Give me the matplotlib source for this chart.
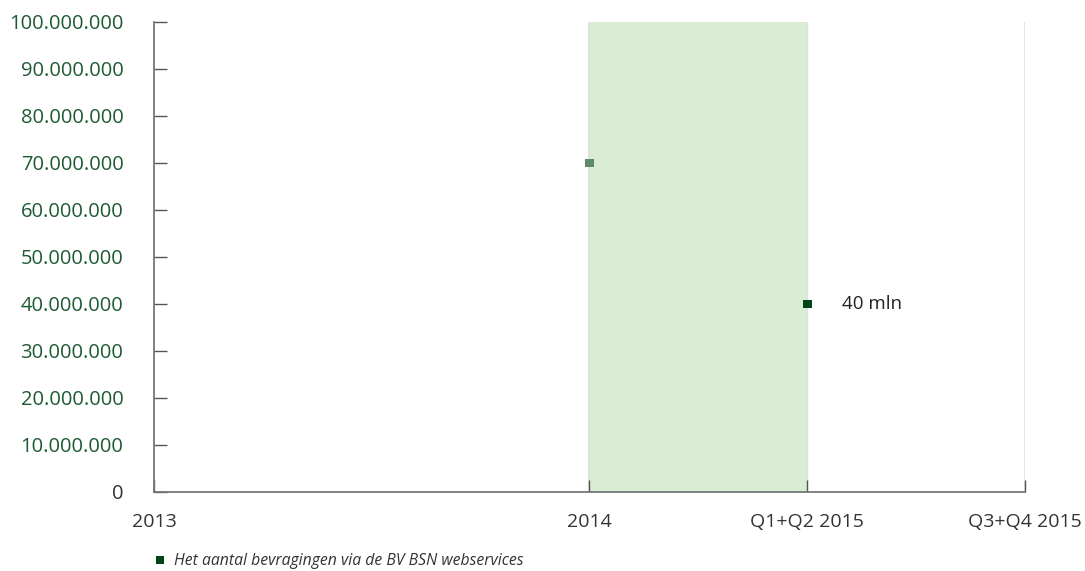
import matplotlib.pyplot as plt
from matplotlib.ticker import FuncFormatter
from matplotlib.lines import Line2D

# perioden op een tijd-as: 2013 = 0, 2014 = 1, halfjaren 2015 = 1.5 en 2
periodes = ["2013", "2014", "Q1+Q2 2015", "Q3+Q4 2015"]
periode_pos = [0, 1, 1.5, 2]

# bevragingen via de BV BSN webservices
punt_pos = [1, 1.5]
bevragingen = [70_000_000, 40_000_000]
punt_kleuren = ["#5e8a6c", "#00441b"]
label_tekst = "40 mln"
label_waarde = 40_000_000

legenda_tekst = "Het aantal bevragingen via de BV BSN webservices"

plt.rcParams["font.family"] = ["Open Sans", "DejaVu Sans"]

fig = plt.figure(figsize=(10.85, 5.71), dpi=100)
ax = fig.add_axes([0.1419, 0.1384, 0.8028, 0.8231])

ax.set_xlim(0, 2)
ax.set_ylim(0, 100_000_000)

# lichtgroene band voor het eerste halfjaar 2015
ax.axvspan(1, 1.5, color="#d9ecd4", zorder=0)
for x in periode_pos[1:]:
    ax.axvline(x, color="#dedede", lw=1.2, zorder=1)

ax.scatter(punt_pos, bevragingen, marker="s", s=40, c=punt_kleuren,
           linewidths=0, zorder=3, clip_on=False)
ax.annotate(label_tekst, xy=(1.5, label_waarde), xytext=(25, 0),
            textcoords="offset points", va="center", ha="left",
            fontsize=13.5, color="#222222")

ax.set_yticks(range(0, 100_000_001, 10_000_000))
ax.yaxis.set_major_formatter(FuncFormatter(lambda v, p: f"{int(v):,}".replace(",", ".")))
ax.set_xticks(periode_pos)
ax.set_xticklabels(periodes)

for side in ["top", "right"]:
    ax.spines[side].set_visible(False)
for side in ["left", "bottom"]:
    ax.spines[side].set_color("#777777")
    ax.spines[side].set_linewidth(1.3)

ax.tick_params(axis="y", direction="in", length=9, width=1, color="#555555",
               pad=22, labelsize=14.5, labelcolor="#1e5a33")
ax.tick_params(axis="x", direction="in", length=9, width=1, color="#555555",
               pad=15, labelsize=14, labelcolor="#333333")
for lbl in ax.get_yticklabels():
    if lbl.get_text() == "0":
        lbl.set_color("#333333")

handle = Line2D([], [], marker="s", linestyle="none", markersize=6,
                markerfacecolor="#00441b", markeredgewidth=0)
fig.legend([handle], [legenda_tekst], loc="center left",
           bbox_to_anchor=(0.127, 0.017), frameon=False, handletextpad=0.4,
           handlelength=1.0, prop={"style": "italic", "size": 11.3},
           labelcolor="#333333")

fig.savefig("out.png", dpi=100)
